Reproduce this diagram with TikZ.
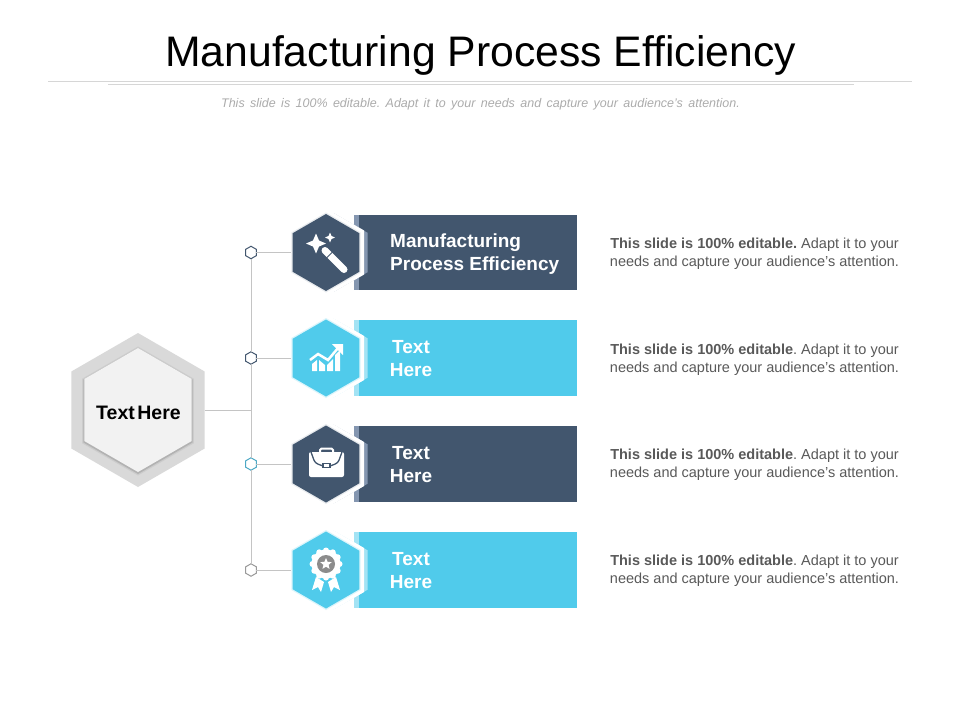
\documentclass[tikz,border=0pt]{standalone}
\usepackage{fontspec}
\setmainfont{Liberation Sans}
\usetikzlibrary{shapes.geometric,calc}
\definecolor{slate}{HTML}{42566E}
\definecolor{slatelight}{HTML}{8496B0}
\definecolor{sky}{HTML}{50CBEB}
\definecolor{skylight}{HTML}{A3E3F4}
\definecolor{linegray}{HTML}{C4C4C4}
\definecolor{bodygray}{HTML}{595959}
\tikzset{
  hexa/.style={regular polygon, regular polygon sides=6, shape border rotate=30, inner sep=0, outer sep=0},
  iconhex/.style={hexa, minimum size=77pt},
  halohex/.style={hexa, minimum size=80pt},
  whitehex/.style={hexa, minimum size=88pt, fill=white},
  chevron/.style={hexa, minimum size=78.8pt},
  dot/.style={hexa, minimum size=12.5pt, fill=white, line width=1pt},
  bar/.style={minimum width=218pt, minimum height=#1, inner sep=0, outer sep=0},
  strip/.style={minimum width=5pt, minimum height=#1, inner sep=0, outer sep=0},
  barlabel/.style={white, font=\fontsize{19}{23}\selectfont\bfseries, align=center, inner sep=0},
  blurb/.style={bodygray, font=\fontsize{14.5}{18}\selectfont\frenchspacing, align=center, inner sep=0},
  connector/.style={linegray, line width=0.9pt}
}
\begin{document}
\begin{tikzpicture}[x=1pt,y=-1pt]
  \useasboundingbox (0,0) rectangle (960,720);
  % heading
  \node[inner sep=0, font=\fontsize{42.7}{50}\selectfont] (heading) at (480.5,55) {Manufacturing Process Efficiency};
  \coordinate (ruleAl) at (48,81.5);
  \coordinate (ruleAr) at (912,81.5);
  \coordinate (ruleBl) at (108,84.5);
  \coordinate (ruleBr) at (854,84.5);
  \draw[linegray!70, line width=0.8pt] (ruleAl) -- (ruleAr);
  \draw[linegray!70, line width=0.8pt] (ruleBl) -- (ruleBr);
  \node[inner sep=0, font=\fontsize{12.5}{14}\selectfont\itshape\frenchspacing, text=black!33] (subheading) at (480.5,104) {\spaceskip=5.4pt This slide is 100\% editable. Adapt it to your needs and capture your audience's attention.};

  % centre hexagon
  \node[hexa, minimum size=154pt, fill=black!15] (centerouter) at (138,410) {};
  \node[hexa, minimum size=129pt, fill=black!20] (centerhalo) at (138,411) {};
  \node[hexa, minimum size=126pt, fill=black!30] (centershadow) at (138,411) {};
  \node[hexa, minimum size=124pt, fill=black!5] (centerhex) at (138,410) {};
  \node[inner sep=0, font=\fontsize{19.5}{22}\selectfont\bfseries] (centerlabel) at (138.5,413) {\spaceskip=2.5pt Text Here};

  % small hexagons and lines
  \node[dot, draw=slate] (dotA) at (251,252.5) {};
  \node[dot, draw=slate] (dotB) at (251,358) {};
  \node[dot, draw=sky!70!slate] (dotC) at (251,464) {};
  \node[dot, draw=black!40] (dotD) at (251,570) {};
  \coordinate (spineMid) at (251,410);
  \draw[connector] (dotA) -- (dotB);
  \draw[connector] (dotB) -- (dotC);
  \draw[connector] (dotC) -- (dotD);
  \draw[connector] (centerouter.east) -- (spineMid);

  % rows
  \node[bar=75pt, fill=slate] (barA) at (468,252.5) {};
  \node[strip=75pt, fill=slatelight] (stripA) at (356.5,252.5) {};
  \node[chevron, fill=slatelight] (chevA) at (333.5,252.5) {};
  \node[whitehex] (ringA) at (326,252.5) {};
  \node[halohex, fill=slate!12] (haloA) at (326,252.5) {};
  \node[iconhex, fill=slate] (iconA) at (326,252.5) {};
  \draw[connector] (dotA) -- (haloA);

  \node[bar=76pt, fill=sky] (barB) at (468,358) {};
  \node[strip=76pt, fill=skylight] (stripB) at (356.5,358) {};
  \node[chevron, fill=skylight] (chevB) at (333.5,358) {};
  \node[whitehex] (ringB) at (326,358) {};
  \node[halohex, fill=sky!20] (haloB) at (326,358) {};
  \node[iconhex, fill=sky] (iconB) at (326,358) {};
  \draw[connector] (dotB) -- (haloB);

  \node[bar=76pt, fill=slate] (barC) at (468,464) {};
  \node[strip=76pt, fill=slatelight] (stripC) at (356.5,464) {};
  \node[chevron, fill=slatelight] (chevC) at (333.5,464) {};
  \node[whitehex] (ringC) at (326,464) {};
  \node[halohex, fill=slate!12] (haloC) at (326,464) {};
  \node[iconhex, fill=slate] (iconC) at (326,464) {};
  \draw[connector] (dotC) -- (haloC);

  \node[bar=76pt, fill=sky] (barD) at (468,570) {};
  \node[strip=76pt, fill=skylight] (stripD) at (356.5,570) {};
  \node[chevron, fill=skylight] (chevD) at (333.5,570) {};
  \node[whitehex] (ringD) at (326,570) {};
  \node[halohex, fill=sky!20] (haloD) at (326,570) {};
  \node[iconhex, fill=sky] (iconD) at (326,570) {};
  \draw[connector] (dotD) -- (haloD);

  % labels
  \node[barlabel, align=left, anchor=west] (labelA) at (390,254) {Manufacturing\\Process Efficiency};
  \node[barlabel] (labelB) at (411,358.5) {Text\\Here};
  \node[barlabel] (labelC) at (411,464.5) {Text\\Here};
  \node[barlabel] (labelD) at (411,570.5) {Text\\Here};
  \node[blurb] (blurbA) at (754.5,253.5) {\textbf{This slide is 100\% editable.} Adapt it to your\\needs and capture your audience's attention.};
  \node[blurb] (blurbB) at (754.5,359.5) {\textbf{This slide is 100\% editable}. Adapt it to your\\needs and capture your audience's attention.};
  \node[blurb] (blurbC) at (754.5,465) {\textbf{This slide is 100\% editable}. Adapt it to your\\needs and capture your audience's attention.};
  \node[blurb] (blurbD) at (754.5,571) {\textbf{This slide is 100\% editable}. Adapt it to your\\needs and capture your audience's attention.};

  % wand
  \begin{scope}[shift={(iconA.center)}]
    \fill[white] (-10,-19) -- (-7,-12) -- (0,-9) -- (-7,-6) -- (-10,1) -- (-13,-6) -- (-20,-9) -- (-13,-12) -- cycle;
    \fill[white] (4,-20) -- (5.5,-16.5) -- (9,-15) -- (5.5,-13.5) -- (4,-10) -- (2.5,-13.5) -- (-1,-15) -- (2.5,-16.5) -- cycle;
    \draw[white, line width=7pt, line cap=round] (-1,-2) -- (18,17);
    \draw[slate, line width=1pt] (0,6) -- (7,-1);
  \end{scope}

  % chart
  \begin{scope}[shift={(iconB.center)}]
    \fill[white] (-14,13) -- (-14,6) -- (-9,2) -- (-9,13) -- cycle;
    \fill[white] (-7,13) -- (-7,2) -- (-1,7) -- (-1,13) -- cycle;
    \fill[white] (1,13) -- (1,7) -- (7,1) -- (7,13) -- cycle;
    \fill[white] (9,13) -- (9,-3) -- (14,-8) -- (14,13) -- cycle;
    \draw[white, line width=2.5pt] (-16,2) -- (-8,-4) -- (2,2) -- (12,-10);
    \fill[white] (6,-14) -- (17,-14) -- (17,-3) -- cycle;
  \end{scope}

  % briefcase
  \begin{scope}[shift={(iconC.center)}]
    \draw[white, line width=2pt, rounded corners=1.5pt] (-6,-11) -- (-6,-15.5) -- (7,-15.5) -- (7,-11);
    \fill[white, rounded corners=2pt] (-17,-12) rectangle (18,13);
    \draw[slate, line width=1.3pt, rounded corners=3pt] (-15,-12) -- (-11,-1) -- (-3,2);
    \draw[slate, line width=1.3pt, rounded corners=3pt] (16,-12) -- (12,-1) -- (4,2);
    \draw[slate, fill=white, line width=1.2pt] (-3,-0.5) rectangle (4,3.5);
  \end{scope}

  % badge
  \begin{scope}[shift={(iconD.center)}]
    \fill[white] (-10,7) -- (-2,12) -- (-5,22) -- (-8,17) -- (-14,20) -- cycle;
    \fill[white] (10,7) -- (2,12) -- (5,22) -- (8,17) -- (14,20) -- cycle;
    \fill[white] (0,-6) circle (14.5);
    \foreach \a in {0,30,...,330}
      \fill[white] ($(0,-6)+(\a:13.5)$) circle (3);
    \fill[black!45] (0,-6) circle (9);
    \node[star, star points=5, star point ratio=2.2, minimum size=12pt, inner sep=0, fill=white] (badgestar) at (0,-6) {};
  \end{scope}
\end{tikzpicture}
\end{document}
